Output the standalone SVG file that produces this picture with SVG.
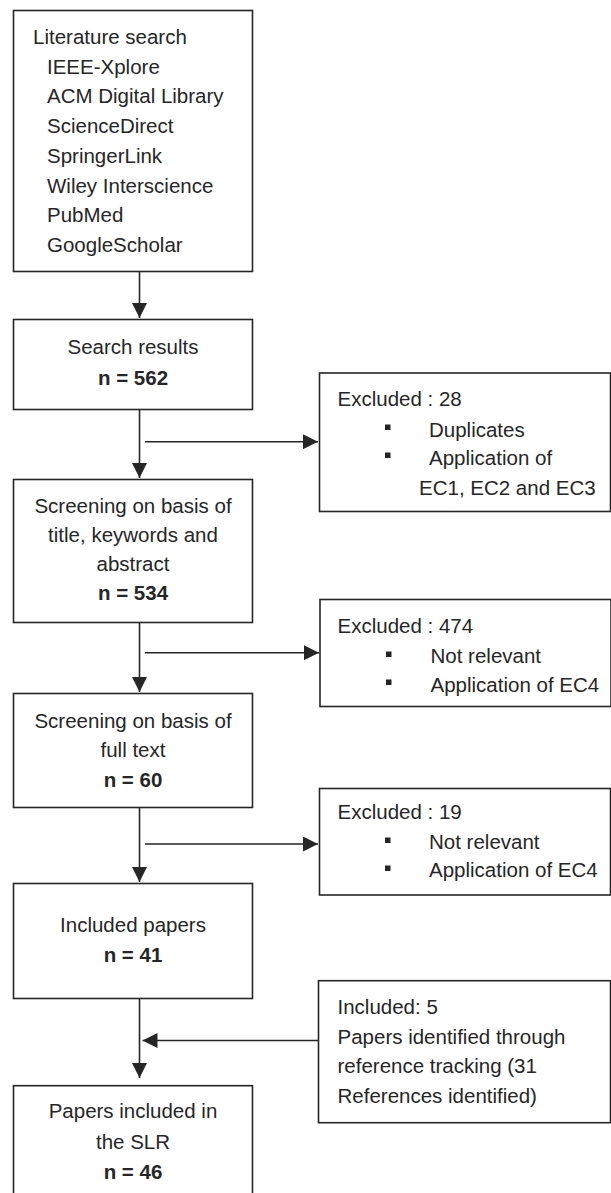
<svg xmlns="http://www.w3.org/2000/svg" width="611" height="1193" viewBox="0 0 611 1193">
<style>
.box{fill:#fff;stroke:#262626;stroke-width:1.6}
.t{font-family:"Liberation Sans",Arial,sans-serif;font-size:20.5px;fill:#262626}
.c{text-anchor:middle}
.b{font-weight:bold}
.line{stroke:#262626;stroke-width:1.6;fill:none}
.bul{fill:#262626}
</style>
<defs>
<marker id="ah" markerWidth="15" markerHeight="15" refX="15" refY="7.5" orient="auto" markerUnits="userSpaceOnUse">
<path d="M0,0 L15,7.5 L0,15 z" fill="#262626"/>
</marker>
</defs>
<rect width="611" height="1193" fill="#fff"/>
<g id="connectors">
<line class="line" x1="139.5" y1="271.5" x2="139.5" y2="318" marker-end="url(#ah)"/>
<line class="line" x1="139.5" y1="409.5" x2="139.5" y2="478" marker-end="url(#ah)"/>
<line class="line" x1="145" y1="441.7" x2="318" y2="441.7" marker-end="url(#ah)"/>
<line class="line" x1="139.5" y1="622.5" x2="139.5" y2="692" marker-end="url(#ah)"/>
<line class="line" x1="145" y1="652.7" x2="319" y2="652.7" marker-end="url(#ah)"/>
<line class="line" x1="139.5" y1="807.5" x2="139.5" y2="882" marker-end="url(#ah)"/>
<line class="line" x1="145" y1="844" x2="318" y2="844" marker-end="url(#ah)"/>
<line class="line" x1="139.5" y1="998.5" x2="139.5" y2="1078" marker-end="url(#ah)"/>
<line class="line" x1="318" y1="1040.5" x2="142.5" y2="1040.5" marker-end="url(#ah)"/>
</g>
<g id="literature-search">
<rect class="box" x="13.5" y="10.5" width="239" height="261"/>
<text class="t" x="33" y="44">Literature search</text>
<text class="t" x="47" y="73.7">IEEE-Xplore</text>
<text class="t" x="47" y="103.4">ACM Digital Library</text>
<text class="t" x="47" y="133.1">ScienceDirect</text>
<text class="t" x="47" y="162.8">SpringerLink</text>
<text class="t" x="47" y="192.5">Wiley Interscience</text>
<text class="t" x="47" y="222.2">PubMed</text>
<text class="t" x="47" y="251.9">GoogleScholar</text>
</g>
<g id="search-results">
<rect class="box" x="13.5" y="319.5" width="239" height="90"/>
<text class="t c" x="133" y="354">Search results</text>
<text class="t c b" x="133" y="385">n = 562</text>
</g>
<g id="excluded-28">
<rect class="box" x="319.5" y="373" width="291" height="138.5"/>
<text class="t" x="337.5" y="406">Excluded : 28</text>
<rect class="bul" x="385" y="424.5" width="5.5" height="5.5"/>
<text class="t" x="429" y="436.7">Duplicates</text>
<rect class="bul" x="385" y="452.5" width="5.5" height="5.5"/>
<text class="t" x="429" y="465">Application of</text>
<text class="t" x="419" y="495">EC1, EC2 and EC3</text>
</g>
<g id="screening-title">
<rect class="box" x="13.5" y="479.5" width="239" height="143"/>
<text class="t c" x="133" y="513">Screening on basis of</text>
<text class="t c" x="133" y="542">title, keywords and</text>
<text class="t c" x="133" y="571">abstract</text>
<text class="t c b" x="133" y="600">n = 534</text>
</g>
<g id="excluded-474">
<rect class="box" x="320" y="599.5" width="291" height="107"/>
<text class="t" x="337.5" y="633.3">Excluded : 474</text>
<rect class="bul" x="386" y="651.5" width="5.5" height="5.5"/>
<text class="t" x="430.5" y="663">Not relevant</text>
<rect class="bul" x="386" y="679.5" width="5.5" height="5.5"/>
<text class="t" x="430.5" y="691.7">Application of EC4</text>
</g>
<g id="screening-full">
<rect class="box" x="13.5" y="693.5" width="239" height="114"/>
<text class="t c" x="133" y="727.5">Screening on basis of</text>
<text class="t c" x="133" y="757">full text</text>
<text class="t c b" x="133" y="786.5">n = 60</text>
</g>
<g id="excluded-19">
<rect class="box" x="319.5" y="788.5" width="291" height="106.5"/>
<text class="t" x="337.5" y="819.3">Excluded : 19</text>
<rect class="bul" x="385" y="837.5" width="5.5" height="5.5"/>
<text class="t" x="429" y="849.3">Not relevant</text>
<rect class="bul" x="385" y="865.5" width="5.5" height="5.5"/>
<text class="t" x="429" y="877.3">Application of EC4</text>
</g>
<g id="included-papers">
<rect class="box" x="13.5" y="883.5" width="239" height="115"/>
<text class="t c" x="133" y="931.7">Included papers</text>
<text class="t c b" x="133" y="961.7">n = 41</text>
</g>
<g id="included-5">
<rect class="box" x="318.5" y="980.7" width="292" height="142"/>
<text class="t" x="337.5" y="1014">Included: 5</text>
<text class="t" x="337.5" y="1043.5">Papers identified through</text>
<text class="t" x="337.5" y="1073">reference tracking (31</text>
<text class="t" x="337.5" y="1102.5">References identified)</text>
</g>
<g id="papers-slr">
<rect class="box" x="13.5" y="1085.7" width="239" height="120"/>
<text class="t c" x="133" y="1118">Papers included in</text>
<text class="t c" x="133" y="1149">the SLR</text>
<text class="t c b" x="133" y="1179">n = 46</text>
</g>
</svg>
